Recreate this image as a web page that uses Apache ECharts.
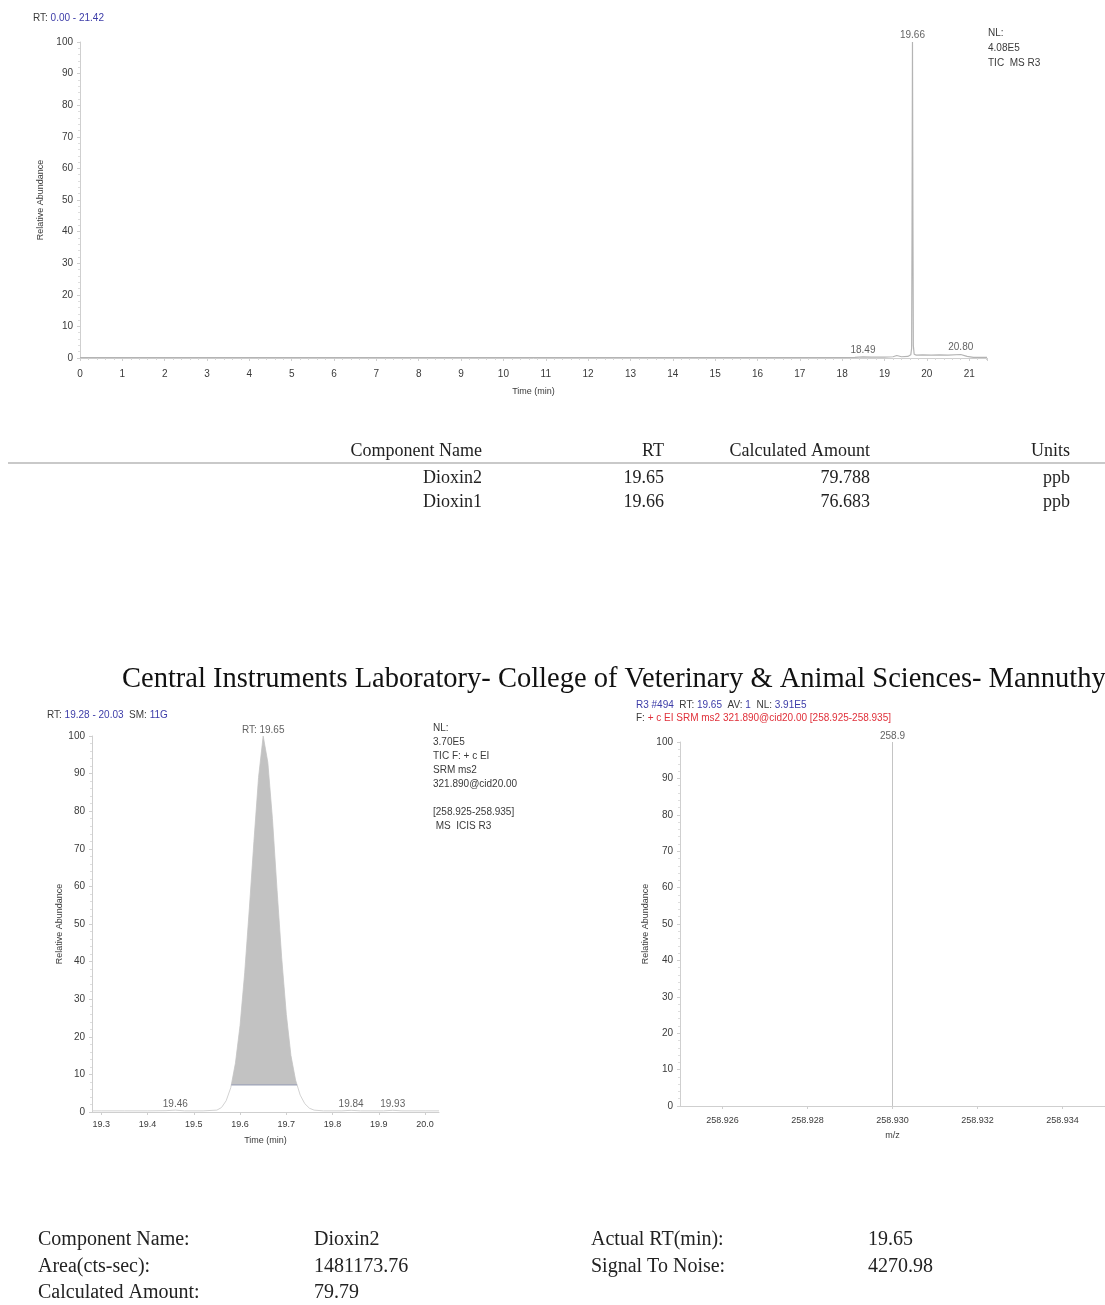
<!DOCTYPE html>
<html>
<head>
<meta charset="utf-8">
<title>Dioxin report</title>
<script src="https://cdn.jsdelivr.net/npm/echarts@6/dist/echarts.min.js"></script>
<style>
  html, body { margin: 0; padding: 0; background: #fff; }
  #report { width: 1105px; height: 1305px; }
</style>
</head>
<body>
<div id="report"></div>
<script>
// ---- Total ion chromatogram (full run) ----
const ticTime  = [0, 2, 4, 6, 8, 10, 12, 14, 16, 17, 18, 18.3, 18.49, 18.7, 19.0, 19.2, 19.29, 19.4, 19.55, 19.62, 19.64, 19.65, 19.66, 19.67, 19.68, 19.70, 19.75, 19.9, 20.1, 20.3, 20.5, 20.8, 20.95, 21.1, 21.42];
const ticAbund = [0.1, 0.1, 0.1, 0.1, 0.1, 0.1, 0.1, 0.1, 0.1, 0.1, 0.15, 0.2, 0.35, 0.25, 0.3, 0.4, 0.8, 0.4, 0.5, 1.0, 3.0, 42, 100, 46, 4.0, 1.2, 0.9, 1.0, 0.9, 1.0, 0.9, 1.1, 0.5, 0.2, 0.2];
const ticPeakLabels = [[18.49, 0.35, '18.49'], [19.66, 100, '19.66'], [20.80, 1.1, '20.80']];
const ticXTicks = [0, 1, 2, 3, 4, 5, 6, 7, 8, 9, 10, 11, 12, 13, 14, 15, 16, 17, 18, 19, 20, 21];

// ---- Selected ion chromatogram around the Dioxin2 peak ----
const sicTime  = [19.28, 19.30, 19.35, 19.40, 19.44, 19.46, 19.48, 19.52, 19.55, 19.56, 19.57, 19.58, 19.59, 19.60, 19.61, 19.62, 19.63, 19.64, 19.65, 19.66, 19.67, 19.68, 19.69, 19.70, 19.71, 19.72, 19.73, 19.74, 19.75, 19.76, 19.78, 19.82, 19.84, 19.86, 19.91, 19.93, 19.95, 20.00, 20.03];
const sicAbund = [0.3, 0.3, 0.3, 0.3, 0.35, 0.5, 0.3, 0.3, 0.5, 1.2, 3.0, 6.5, 13, 23, 37, 54, 72, 89, 100, 93, 78, 59, 41, 26, 15, 8.5, 4.5, 2.2, 1.0, 0.5, 0.3, 0.3, 0.45, 0.3, 0.3, 0.45, 0.3, 0.3, 0.3];
const sicPeakLabels = [[19.46, 0.5, '19.46'], [19.65, 100, 'RT: 19.65'], [19.84, 0.45, '19.84'], [19.93, 0.45, '19.93']];
const sicIntegrationBase = 7.2;   // ICIS integration baseline level (% abundance)
const sicXTicks = [19.3, 19.4, 19.5, 19.6, 19.7, 19.8, 19.9, 20.0];

// ---- Mass spectrum at RT 19.65 ----
const msMz     = [258.930];
const msInt    = [100];
const msLabels = ['258.9'];
const msXTicks = [258.926, 258.928, 258.930, 258.932, 258.934];

const yTicks = [0, 10, 20, 30, 40, 50, 60, 70, 80, 90, 100];

// ---- Quantitation tables ----
const quantHeader = ['Component Name', 'RT', 'Calculated Amount', 'Units'];
const quantRows = [
  ['Dioxin2', '19.65', '79.788', 'ppb'],
  ['Dioxin1', '19.66', '76.683', 'ppb']
];
const summaryLeft  = [['Component Name:', 'Dioxin2'], ['Area(cts-sec):', '1481173.76'], ['Calculated Amount:', '79.79']];
const summaryRight = [['Actual RT(min):', '19.65'], ['Signal To Noise:', '4270.98']];
const reportTitle = 'Central Instruments Laboratory- College of Veterinary & Animal Sciences- Mannuthy';

// ---- styling ----
const SANS = '"Liberation Sans", Arial, sans-serif';
const SERIF = '"Liberation Serif", "Times New Roman", serif';
const AXIS_C = '#cfcfcf';
const LABEL_C = '#3a3a3a';
const BLUE = '#3c3ca8';
const RED = '#e0303a';
const TRACE_C = '#b4b4b4';

function yAxisFor(gridIndex, nameGap) {
  return {
    type: 'value', gridIndex, min: 0, max: 100, interval: 10,
    name: 'Relative Abundance', nameLocation: 'middle', nameGap, nameRotate: 90,
    nameTextStyle: { fontFamily: SANS, fontSize: 9, color: LABEL_C },
    axisLine: { show: true, lineStyle: { color: AXIS_C, width: 1 } },
    axisTick: { show: true, length: 3, lineStyle: { color: AXIS_C } },
    minorTick: { show: true, splitNumber: 5, length: 2, lineStyle: { color: '#dedede' } },
    axisLabel: { fontFamily: SANS, fontSize: 10, color: LABEL_C, margin: 7, customValues: yTicks },
    splitLine: { show: false }
  };
}

function xAxisFor(gridIndex, cfg) {
  return Object.assign({
    type: 'value', gridIndex,
    nameLocation: 'middle',
    nameTextStyle: { fontFamily: SANS, fontSize: 9, color: LABEL_C },
    axisLine: { show: true, onZero: false, lineStyle: { color: AXIS_C, width: 1 } },
    axisTick: { show: true, length: 3, lineStyle: { color: AXIS_C } },
    splitLine: { show: false }
  }, cfg);
}

// area fill above the integration baseline, clipped at the baseline crossings
function integratedArea(xs, ys, base) {
  const out = [];
  for (let i = 0; i < xs.length; i++) {
    if (ys[i] >= base) {
      if (i > 0 && ys[i - 1] < base) {
        const t = (base - ys[i - 1]) / (ys[i] - ys[i - 1]);
        out.push([xs[i - 1] + t * (xs[i] - xs[i - 1]), base]);
      }
      out.push([xs[i], ys[i]]);
      if (i < xs.length - 1 && ys[i + 1] < base) {
        const t = (ys[i] - base) / (ys[i] - ys[i + 1]);
        out.push([xs[i] + t * (xs[i + 1] - xs[i]), base]);
      }
    }
  }
  return out;
}

const zip = (a, b) => a.map((v, i) => [v, b[i]]);
const sicFill = integratedArea(sicTime, sicAbund, sicIntegrationBase);
const sicBaseSeg = [sicFill[0][0], sicFill[sicFill.length - 1][0]].map(x => [x, sicIntegrationBase]);

function peakLabelSeries(xAxisIndex, yAxisIndex, items, dist) {
  return {
    type: 'scatter', xAxisIndex, yAxisIndex, symbolSize: 0, silent: true, z: 5,
    data: items.map(p => ({ value: [p[0], p[1]], name: p[2] })),
    label: { show: true, position: 'top', distance: dist, formatter: '{b}', fontFamily: SANS, fontSize: 10, color: LABEL_C }
  };
}

function text(x, y, str, opt) {
  return {
    type: 'text', x, y, silent: true,
    style: Object.assign({ text: str, fontFamily: SANS, fontSize: 10, fill: LABEL_C, textAlign: 'left', textVerticalAlign: 'middle' }, opt || {})
  };
}

const graphics = [];
// header of the full-run chromatogram
graphics.push(text(33, 18, '{k|RT:} {v|0.00 - 21.42}', { rich: { k: { fill: LABEL_C, fontSize: 10, fontFamily: SANS }, v: { fill: BLUE, fontSize: 10, fontFamily: SANS } } }));
['NL:', '4.08E5', 'TIC  MS R3'].forEach((s, i) => graphics.push(text(988, [33, 48, 63][i], s)));

// quantitation table
const colRight = [482, 664, 870, 1070];
quantHeader.forEach((h, i) => graphics.push(text(colRight[i], 451, h, { fontFamily: SERIF, fontSize: 18, fill: '#222', textAlign: 'right' })));
graphics.push({ type: 'line', silent: true, shape: { x1: 8, y1: 463, x2: 1105, y2: 463 }, style: { stroke: '#c9c9c9', lineWidth: 2 } });
quantRows.forEach((row, r) => row.forEach((c, i) => graphics.push(text(colRight[i], 478 + r * 24, c, { fontFamily: SERIF, fontSize: 18, fill: '#222', textAlign: 'right' }))));

// lab title
graphics.push(text(122, 680, reportTitle, { fontFamily: SERIF, fontSize: 28.5, fill: '#111' }));

// header of the selected ion chromatogram
graphics.push(text(47, 715, '{k|RT:} {v|19.28 - 20.03}  {k|SM:} {v|11G}', { rich: { k: { fill: LABEL_C, fontSize: 10, fontFamily: SANS }, v: { fill: BLUE, fontSize: 10, fontFamily: SANS } } }));
[['NL:', 728], ['3.70E5', 742], ['TIC F: + c EI', 756], ['SRM ms2', 770], ['321.890@cid20.00', 784], ['[258.925-258.935]', 812], [' MS  ICIS R3', 826]]
  .forEach(l => graphics.push(text(433, l[1], l[0])));

// header of the mass spectrum
graphics.push(text(636, 705, '{v|R3 #494}  {k|RT:} {v|19.65}  {k|AV:} {v|1}  {k|NL:} {v|3.91E5}', { rich: { k: { fill: LABEL_C, fontSize: 10, fontFamily: SANS }, v: { fill: BLUE, fontSize: 10, fontFamily: SANS } } }));
graphics.push(text(636, 718, '{k|F:} {r|+ c EI SRM ms2 321.890@cid20.00 [258.925-258.935]}', { rich: { k: { fill: LABEL_C, fontSize: 10, fontFamily: SANS }, r: { fill: RED, fontSize: 10, fontFamily: SANS } } }));

// peak summary
summaryLeft.forEach((p, r) => {
  graphics.push(text(38, 1240 + r * 26.5, p[0], { fontFamily: SERIF, fontSize: 20, fill: '#222' }));
  graphics.push(text(314, 1240 + r * 26.5, p[1], { fontFamily: SERIF, fontSize: 20, fill: '#222' }));
});
summaryRight.forEach((p, r) => {
  graphics.push(text(591, 1240 + r * 26.5, p[0], { fontFamily: SERIF, fontSize: 20, fill: '#222' }));
  graphics.push(text(868, 1240 + r * 26.5, p[1], { fontFamily: SERIF, fontSize: 20, fill: '#222' }));
});

const chart = echarts.init(document.getElementById('report'), null, { renderer: 'canvas' });
chart.setOption({
  backgroundColor: '#ffffff',
  animation: false,
  grid: [
    { left: 80, top: 42, width: 907, height: 316 },
    { left: 92, top: 736, width: 347, height: 376 },
    { left: 680, top: 742, width: 425, height: 364 }
  ],
  xAxis: [
    xAxisFor(0, {
      min: 0, max: 21.42, interval: 1, name: 'Time (min)', nameGap: 29,
      minorTick: { show: true, splitNumber: 5, length: 2, lineStyle: { color: '#d6d6d6' } },
      axisLabel: { fontFamily: SANS, fontSize: 10, color: LABEL_C, margin: 11, customValues: ticXTicks }
    }),
    xAxisFor(1, {
      min: 19.28, max: 20.03, name: 'Time (min)', nameGap: 24,
      axisTick: { show: true, length: 3, lineStyle: { color: AXIS_C }, customValues: sicXTicks },
      axisLabel: { fontFamily: SANS, fontSize: 9, color: LABEL_C, margin: 8, customValues: sicXTicks, formatter: v => v.toFixed(1) }
    }),
    xAxisFor(2, {
      min: 258.925, max: 258.935, name: 'm/z', nameGap: 25,
      axisTick: { show: true, length: 3, lineStyle: { color: AXIS_C }, customValues: msXTicks },
      axisLabel: { fontFamily: SANS, fontSize: 9, color: LABEL_C, margin: 10, customValues: msXTicks, formatter: v => v.toFixed(3) }
    })
  ],
  yAxis: [yAxisFor(0, 31), yAxisFor(1, 28), yAxisFor(2, 30)],
  series: [
    { type: 'line', xAxisIndex: 0, yAxisIndex: 0, data: zip(ticTime, ticAbund), showSymbol: false, lineStyle: { color: TRACE_C, width: 1.2 }, z: 3 },
    peakLabelSeries(0, 0, ticPeakLabels, 2),
    { type: 'line', xAxisIndex: 1, yAxisIndex: 1, data: sicFill, showSymbol: false, lineStyle: { width: 0 },
      areaStyle: { color: '#c2c2c2', opacity: 1, origin: sicIntegrationBase }, z: 2 },
    { type: 'line', xAxisIndex: 1, yAxisIndex: 1, data: sicBaseSeg, showSymbol: false, lineStyle: { color: '#9ea3b8', width: 1.2 }, z: 3 },
    { type: 'line', xAxisIndex: 1, yAxisIndex: 1, data: zip(sicTime, sicAbund), showSymbol: false, lineStyle: { color: '#d2d2d2', width: 1 }, z: 1 },
    peakLabelSeries(1, 1, sicPeakLabels, 1),
    { type: 'line', xAxisIndex: 2, yAxisIndex: 2, data: msMz.flatMap((m, i) => [[m, 0], [m, msInt[i]], null]), connectNulls: false, showSymbol: false, lineStyle: { color: '#c4c4c4', width: 1 }, z: 3 },
    peakLabelSeries(2, 2, zip(msMz, msInt).map((p, i) => [p[0], p[1], msLabels[i]]), 1)
  ],
  graphic: graphics
});
</script>
</body>
</html>
